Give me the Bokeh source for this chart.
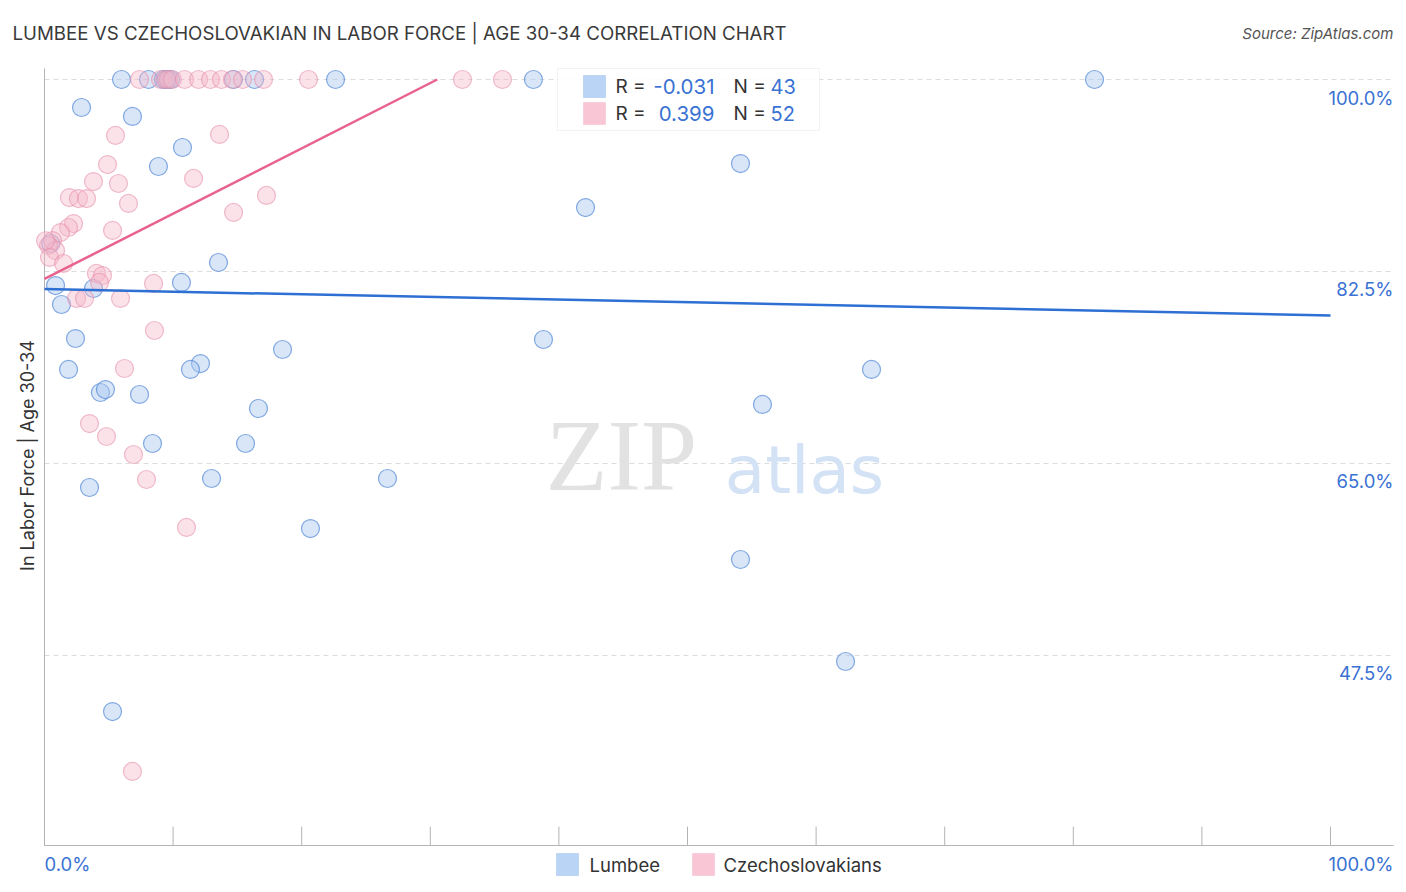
import numpy as np
from bokeh.plotting import figure
from bokeh.models import Range1d, Label, BoxAnnotation
from bokeh.embed import file_html
from bokeh.resources import INLINE

FONT = "Inter"

# ---------------- data ----------------
lumbee_x = [5.99, 8.09, 9.25, 9.80, 14.70, 16.33, 22.63, 38.02, 81.65, 9.5,
            2.88, 6.84, 10.73, 8.86, 54.12, 42.07, 13.53, 10.65, 0.86, 3.81,
            1.32, 2.41, 38.80, 18.51, 1.87, 12.13, 11.35, 64.31, 4.35, 4.74,
            7.39, 16.64, 55.83, 8.40, 15.63, 3.50, 12.99, 26.67, 20.68, 54.12,
            62.29, 5.29, 0.47]
lumbee_y = [100.0, 100.0, 100.0, 100.0, 100.0, 100.0, 100.0, 100.0, 100.0, 100.0,
            97.45, 96.63, 93.80, 92.07, 92.34, 88.33, 83.32, 81.50, 81.22, 80.95,
            79.49, 76.39, 76.30, 75.39, 73.57, 74.11, 73.57, 73.57, 71.47, 71.74,
            71.29, 70.01, 70.38, 66.82, 66.82, 62.81, 63.63, 63.63, 59.07, 56.25,
            46.95, 42.39, 85.05]

czech_x = [7.39, 9.02, 9.41, 9.64, 9.95, 10.89, 11.98, 12.91, 13.76, 14.62,
           15.40, 17.03, 20.53, 32.50, 35.61,
           5.52, 13.61, 4.90, 11.59, 3.81, 5.75, 1.94, 2.64, 3.27, 6.53,
           17.26, 14.70, 5.29, 2.26, 1.87, 1.24, 0.62, 0.31, 0.86, 0.39,
           1.48, 8.48, 4.04, 4.51, 4.28, 2.49, 3.11, 5.91, 8.55, 6.22,
           3.50, 4.82, 6.92, 7.93, 11.04, 6.84, 0.08]
czech_y = [100.0, 100.0, 100.0, 100.0, 100.0, 100.0, 100.0, 100.0, 100.0, 100.0,
           100.0, 100.0, 100.0, 100.0, 100.0,
           94.90, 94.99, 92.25, 90.98, 90.70, 90.52, 89.24, 89.15, 89.15, 88.70,
           89.43, 87.88, 86.24, 86.87, 86.51, 86.05, 85.32, 84.87, 84.41, 83.78,
           83.23, 81.41, 82.32, 82.13, 81.50, 80.04, 80.04, 80.04, 77.12, 73.66,
           68.64, 67.46, 65.82, 63.54, 59.17, 36.93, 85.30]

lumbee_trend_x = [0.0, 100.0]
lumbee_trend_y = [80.9, 78.5]
czech_trend_x = [0.0, 30.54]
czech_trend_y = [81.82, 100.0]

y_ticks = [47.5, 65.0, 82.5, 100.0]
y_tick_labels = ["47.5%", "65.0%", "82.5%", "100.0%"]
x_ticks = [0, 10, 20, 30, 40, 50, 60, 70, 80, 90, 100]
x_end_labels = ["0.0%", "100.0%"]

series_names = ["Lumbee", "Czechoslovakians"]
r_values = ["-0.031", "0.399"]
n_values = ["43", "52"]

BLUE_FILL, BLUE_LINE = "#a8c7ef", "#5b8ed8"
PINK_FILL, PINK_LINE = "#f5b6c8", "#e690ab"
BLUE_TREND, PINK_TREND = "#2d6fd2", "#e8628d"
SQ_FILL = ["#b9d4f5", "#f9c6d5"]
SQ_LINE = ["#7aa9e6", "#eea3bb"]
VALUE_BLUE = "#3a72d3"
AXIS_GREY = "#b4b4b4"

# ---------------- layout geometry (pixels of the canvas) ----------------
W, H = 1406, 892
X0_PX, X_PER = 44.0, 12.86        # x = 0 % at 44 px, 12.86 px per %
Y100_PX, Y_PER = 79.0, 10.971     # y = 100 % at 79 px, 10.971 px per %
PLOT_RIGHT_PX, PLOT_TOP_PX, PLOT_BOTTOM_PX = 1393, 68, 845


def dx(px):
    return (px - X0_PX) / X_PER


def dy(py):
    return 100.0 - (py - Y100_PX) / Y_PER


def sy(py):  # canvas y (from top) -> screen units (from bottom)
    return H - py


p = figure(width=W, height=H, output_backend="svg", toolbar_location=None,
           x_range=Range1d(dx(0), dx(W)), y_range=Range1d(dy(H), dy(0)),
           x_axis_location=None, y_axis_location=None, min_border=0)
p.outline_line_color = None
p.background_fill_color = "white"
p.border_fill_color = "white"
p.grid.visible = False

# watermark
p.add_layout(Label(x=621, y=sy(455), x_units="screen", y_units="screen", text="ZIP",
                   text_font="Liberation Serif", text_font_size="101px",
                   text_color="#e2e2e2", text_align="center",
                   text_baseline="middle", level="underlay"))
p.add_layout(Label(x=804, y=sy(470), x_units="screen", y_units="screen", text="atlas",
                   text_font="DejaVu Sans", text_font_size="66px",
                   text_color="#d3e2f5", text_align="center",
                   text_baseline="middle", level="underlay"))

# gridlines (dashed)
x_grid_end = dx(PLOT_RIGHT_PX)
p.segment(x0=[0] * len(y_ticks), y0=y_ticks, x1=[x_grid_end] * len(y_ticks), y1=y_ticks,
          line_color="#dcdcdc", line_width=1, line_dash="5 4", level="underlay")

# axes
y_bot, y_top = dy(PLOT_BOTTOM_PX), dy(PLOT_TOP_PX)
p.segment(x0=[0, 0], y0=[y_bot, y_bot], x1=[0, x_grid_end], y1=[y_top, y_bot],
          line_color=AXIS_GREY, line_width=1)
p.segment(x0=x_ticks, y0=[y_bot] * len(x_ticks), x1=x_ticks,
          y1=[dy(PLOT_BOTTOM_PX - 19)] * len(x_ticks),
          line_color=AXIS_GREY, line_width=1)

# points
p.scatter(lumbee_x, lumbee_y, size=18, fill_color=BLUE_FILL, fill_alpha=0.45,
          line_color=BLUE_LINE, line_alpha=0.75, line_width=1.2)
p.scatter(czech_x, czech_y, size=18, fill_color=PINK_FILL, fill_alpha=0.4,
          line_color=PINK_LINE, line_alpha=0.6, line_width=1.2)

# trend lines
p.line(lumbee_trend_x, lumbee_trend_y, line_color=BLUE_TREND, line_width=2.5)
p.line(czech_trend_x, czech_trend_y, line_color=PINK_TREND, line_width=2.5)


def box(left, right, top, bottom, fill, line, alpha=1.0):
    p.add_layout(BoxAnnotation(left=left, right=right, top=sy(top), bottom=sy(bottom),
                               left_units="screen", right_units="screen",
                               top_units="screen", bottom_units="screen",
                               fill_color=fill, fill_alpha=alpha,
                               line_color=line, line_width=1))


def text(x, py, s, size, color, align="left", **kw):
    p.add_layout(Label(x=x, y=sy(py), x_units="screen", y_units="screen", text=s,
                       text_font=FONT, text_font_size=size, text_color=color,
                       text_align=align, text_baseline="middle", **kw))


# stats box
box(557, 819, 68, 130, "white", "#d8d8d8", alpha=0.88)
row_py = [86, 113]
for i in range(2):
    box(583, 605, row_py[i] - 11, row_py[i] + 11, SQ_FILL[i], SQ_LINE[i])
    text(615, row_py[i], "R =", "19px", "#333333")
    text(714, row_py[i], r_values[i], "20.5px", VALUE_BLUE, align="right")
    text(733, row_py[i], "N =", "19px", "#333333")
    text(770, row_py[i], n_values[i], "20px", VALUE_BLUE)

# y tick labels (right side, inside)
for t, lab in zip(y_ticks, y_tick_labels):
    p.add_layout(Label(x=PLOT_RIGHT_PX, y=t, x_units="screen", y_units="data", y_offset=-18,
                       text=lab, text_font=FONT, text_font_size="18.5px",
                       text_color=VALUE_BLUE, text_align="right", text_baseline="middle"))

# x end labels
text(X0_PX, 863, x_end_labels[0], "18.5px", VALUE_BLUE)
text(PLOT_RIGHT_PX, 863, x_end_labels[1], "18.5px", VALUE_BLUE, align="right")

# bottom legend
leg_sq_left = [556, 692]
leg_txt_left = [589, 723]
for i in range(2):
    box(leg_sq_left[i], leg_sq_left[i] + 22, 853, 875, SQ_FILL[i], SQ_LINE[i])
    text(leg_txt_left[i], 864, series_names[i], "18.5px", "#333333")

# title, source, axis title
text(12, 33, "LUMBEE VS CZECHOSLOVAKIAN IN LABOR FORCE | AGE 30-34 CORRELATION CHART",
     "18.7px", "#3a3a3a")
text(PLOT_RIGHT_PX, 33, "Source: ZipAtlas.com", "15px", "#555555", align="right",
     text_font_style="italic")
text(27, 455, "In Labor Force | Age 30-34", "18px", "#333333", align="center",
     angle=np.pi / 2)

open("out.html", "w").write(file_html(p, INLINE))
